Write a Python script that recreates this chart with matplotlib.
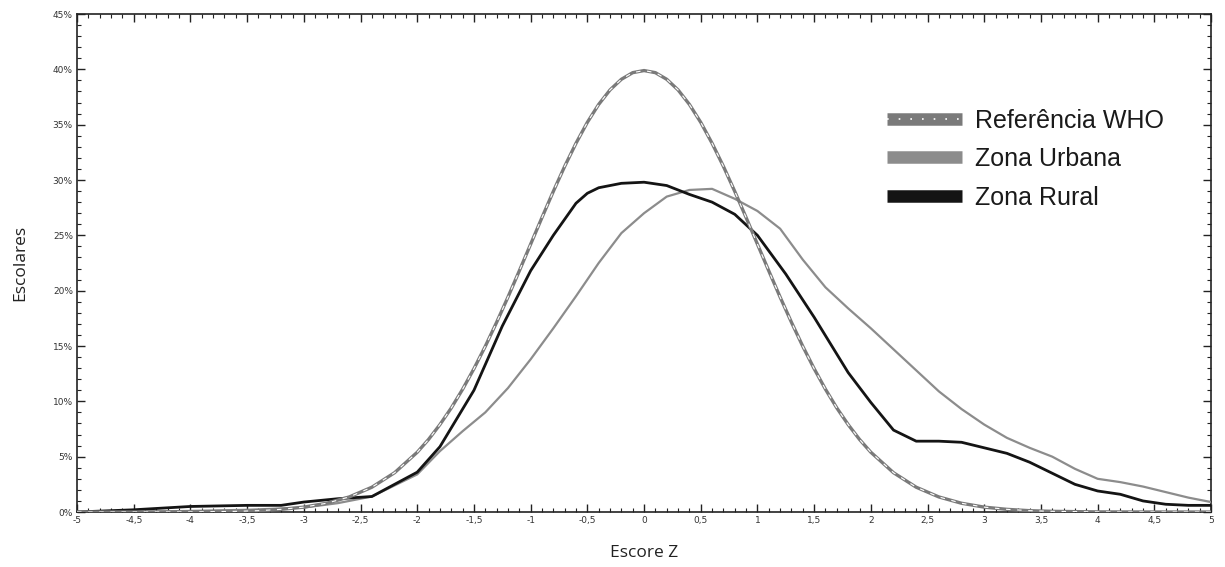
import matplotlib
matplotlib.use("Agg")
import matplotlib.pyplot as plt
from matplotlib.ticker import MultipleLocator, FuncFormatter
from matplotlib.lines import Line2D
from matplotlib.legend_handler import HandlerTuple

# WHO reference
who_z = [-5.0, -4.5, -4.0, -3.6, -3.4, -3.2, -3.0, -2.8, -2.6, -2.4, -2.2,
         -2.0, -1.9, -1.8, -1.7, -1.6, -1.5, -1.4, -1.3, -1.2, -1.1, -1.0, -0.9, -0.8, -0.7,
         -0.6, -0.5, -0.4, -0.3, -0.2, -0.1, 0.0,
         0.1, 0.2, 0.3, 0.4, 0.5, 0.6, 0.7, 0.8, 0.9, 1.0, 1.1, 1.2, 1.3, 1.4, 1.5,
         1.6, 1.7, 1.8, 1.9, 2.0, 2.2, 2.4, 2.6, 2.8,
         3.0, 3.2, 3.4, 3.6, 4.0, 4.5, 5.0]
who_v = [0.0, 0.0, 0.01, 0.06, 0.12, 0.24, 0.44, 0.79, 1.36, 2.24, 3.55,
         5.40, 6.56, 7.90, 9.40, 11.09, 12.95, 14.97, 17.14, 19.42, 21.79, 24.20, 26.61, 28.97, 31.23,
         33.32, 35.21, 36.83, 38.14, 39.10, 39.70, 39.89,
         39.70, 39.10, 38.14, 36.83, 35.21, 33.32, 31.23, 28.97, 26.61, 24.20, 21.79, 19.42, 17.14, 14.97, 12.95,
         11.09, 9.40, 7.90, 6.56, 5.40, 3.55, 2.24, 1.36, 0.79,
         0.44, 0.24, 0.12, 0.06, 0.01, 0.0, 0.0]

# Zona Urbana
urb_z = [-5.0, -4.5, -4.0, -3.5, -3.0, -2.7, -2.4, -2.0, -1.8, -1.6, -1.4, -1.2, -1.0, -0.8, -0.6,
         -0.4, -0.2, 0.0, 0.2, 0.4, 0.6, 0.8, 1.0, 1.2, 1.4, 1.6, 1.8, 2.0, 2.2, 2.4, 2.6, 2.8,
         3.0, 3.2, 3.4, 3.6, 3.8, 4.0, 4.2, 4.4, 4.6, 4.8, 5.0]
urb_v = [0.0, 0.0, 0.1, 0.2, 0.4, 0.8, 1.4, 3.4, 5.5, 7.3, 9.0, 11.2, 13.8, 16.6, 19.5,
         22.5, 25.2, 27.0, 28.5, 29.1, 29.2, 28.3, 27.2, 25.6, 22.8, 20.3, 18.4, 16.6, 14.7, 12.8, 10.9, 9.3,
         7.9, 6.7, 5.8, 5.0, 3.9, 3.0, 2.7, 2.3, 1.8, 1.3, 0.9]

# Zona Rural
rur_z = [-5.0, -4.5, -4.0, -3.5, -3.2, -3.0, -2.7, -2.4, -2.0, -1.8, -1.5, -1.25, -1.0, -0.8, -0.6,
         -0.5, -0.4, -0.2, 0.0, 0.2, 0.4, 0.6, 0.8, 1.0, 1.25, 1.5, 1.8, 2.0, 2.2, 2.4, 2.6, 2.8,
         3.0, 3.2, 3.4, 3.6, 3.8, 4.0, 4.2, 4.4, 4.6, 4.8, 5.0]
rur_v = [0.0, 0.2, 0.5, 0.6, 0.6, 0.9, 1.2, 1.4, 3.6, 5.9, 11.0, 16.8, 21.8, 25.0, 27.9,
         28.8, 29.3, 29.7, 29.8, 29.5, 28.7, 28.0, 26.9, 25.0, 21.5, 17.6, 12.6, 9.9, 7.4, 6.4, 6.4, 6.3,
         5.8, 5.3, 4.5, 3.5, 2.5, 1.9, 1.6, 1.0, 0.7, 0.6, 0.6]

labels = ["Referência WHO", "Zona Urbana", "Zona Rural"]

who_col = "#7a7a7a"
urb_col = "#8c8c8c"
rur_col = "#141414"

fig = plt.figure(figsize=(12.25, 5.67), dpi=100)
ax = fig.add_axes([0.0629, 0.097, 0.9257, 0.8783])

ax.plot(urb_z, urb_v, color=urb_col, lw=1.6, zorder=3)
ax.plot(rur_z, rur_v, color=rur_col, lw=2.0, zorder=4)
ax.plot(who_z, who_v, color=who_col, lw=2.4, zorder=5)
ax.plot(who_z, who_v, color="white", lw=0.8, ls=(0, (4, 6)), zorder=6)

ax.set_xlim(-5, 5)
ax.set_ylim(0, 45)
ax.xaxis.set_major_locator(MultipleLocator(0.5))
ax.xaxis.set_minor_locator(MultipleLocator(0.1))
ax.yaxis.set_major_locator(MultipleLocator(5))
ax.yaxis.set_minor_locator(MultipleLocator(1))

def xfmt(v, pos):
    return ("%g" % round(v, 2)).replace(".", ",")
def yfmt(v, pos):
    return "%d%%" % round(v)
ax.xaxis.set_major_formatter(FuncFormatter(xfmt))
ax.yaxis.set_major_formatter(FuncFormatter(yfmt))

ax.tick_params(which="both", direction="in", top=True, right=True, color="#222222")
ax.tick_params(which="major", length=6, width=1.0, labelsize=6.5, labelcolor="#333333", pad=3)
ax.tick_params(which="minor", length=3, width=0.8)
for sp in ax.spines.values():
    sp.set_linewidth(1.2)
    sp.set_color("#222222")

ax.set_xlabel("Escore Z", fontsize=12.5, family="Open Sans", color="#222222", labelpad=14)
ax.set_ylabel("Escolares", fontsize=12.5, family="Open Sans", color="#222222", labelpad=18)

h_who = (Line2D([], [], color=who_col, lw=9, solid_capstyle="butt"),
         Line2D([], [], color="white", lw=1.2, ls=(0, (1, 6))))
h_urb = Line2D([], [], color=urb_col, lw=9, solid_capstyle="butt")
h_rur = Line2D([], [], color=rur_col, lw=9, solid_capstyle="butt")
leg = ax.legend([h_who, h_urb, h_rur], labels, handler_map={tuple: HandlerTuple(ndivide=1)},
                loc="upper left", bbox_to_anchor=(0.6945, 0.855), frameon=False,
                prop={"family": "Liberation Sans", "size": 18}, handlelength=3.0,
                handletextpad=0.5, labelspacing=0.58)
for t in leg.get_texts():
    t.set_color("#1a1a1a")

fig.savefig("out.png", dpi=100)
